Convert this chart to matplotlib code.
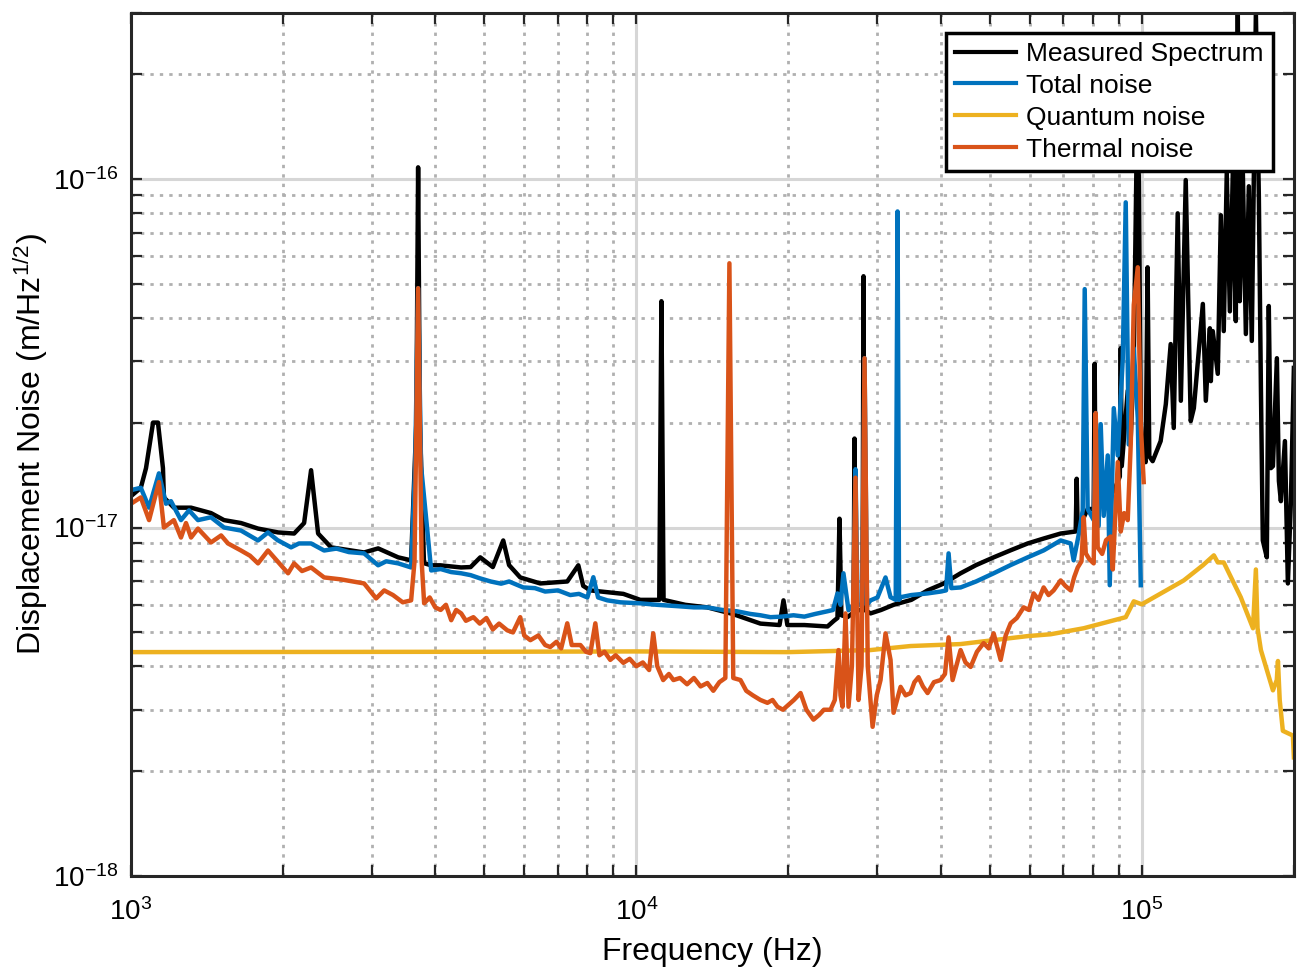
import numpy as np
import matplotlib
matplotlib.use('Agg')
import matplotlib.pyplot as plt
from matplotlib.ticker import FixedLocator, NullFormatter

plt.rcParams['font.family'] = ['Liberation Sans', 'DejaVu Sans']
plt.rcParams['mathtext.default'] = 'regular'
plt.rcParams['axes.unicode_minus'] = False

# frequencies in kHz, amplitudes in units of 1e-17 m/Hz^(1/2)
meas_f = [1.000, 1.046, 1.071, 1.106, 1.131, 1.157, 1.162, 1.216, 1.315, 1.440,
          1.528, 1.651, 1.784, 1.955, 2.103, 2.201, 2.272, 2.346, 2.489, 2.893,
          3.084, 3.379, 3.584, 3.67, 3.70, 3.73, 3.80, 3.927, 4.092, 4.50,
          4.70, 4.911, 5.20, 5.453, 5.60, 5.892, 6.454, 7.30, 7.677, 7.85,
          8.109, 9.425, 10.18, 11.10, 11.21, 11.32, 12.5, 13.82, 15.5, 17.60,
          19.20, 19.55, 19.90, 21.5, 23.89, 24.6, 25.00, 25.23, 25.45, 26.16,
          26.90, 27.02, 27.15, 27.78, 28.02, 28.15, 28.30, 29.07, 30.5, 32.28,
          35.0, 37.69, 40.5, 43.81, 47.0, 50.93, 55.0, 59.47, 64.0, 69.11,
          74.01, 74.35, 74.70, 78.16, 80.34, 80.70, 81.07, 84.10, 88.04, 90.50,
          90.88, 91.30, 93.82, 95.11, 96.43, 97.76, 98.66, 99.55, 100.5, 101.8,
          102.7, 103.5, 105.1, 109.0, 111.6, 114.1, 115.7, 117.8, 119.5, 122.2,
          125.0, 126.8, 132.1, 133.9, 136.4, 137.0, 138.2, 141.4, 143.4, 145.3,
          147.3, 149.4, 151.4, 153.5, 154.9, 156.3, 158.5, 160.7, 162.9, 165.1,
          168.2, 170.5, 172.1, 173.6, 176.8, 178.4, 180.1, 181.8, 185.1, 186.8,
          188.5, 192.0, 194.6, 197.3, 200.0]
meas_v = [1.23, 1.30, 1.48, 2.00, 2.00, 1.48, 1.22, 1.14, 1.14, 1.10,
          1.05, 1.03, 0.993, 0.968, 0.961, 1.03, 1.46, 0.961, 0.877, 0.848,
          0.871, 0.821, 0.805, 2.0, 10.8, 2.0, 0.79, 0.779, 0.779, 0.768,
          0.77, 0.821, 0.77, 0.918, 0.78, 0.719, 0.691, 0.70, 0.779, 0.68,
          0.66, 0.645, 0.62, 0.62, 4.46, 0.62, 0.60, 0.59, 0.565, 0.53,
          0.525, 0.618, 0.525, 0.525, 0.52, 0.54, 0.55, 1.06, 0.56, 0.553,
          0.57, 1.80, 0.58, 0.579, 0.58, 5.26, 0.58, 0.567, 0.58, 0.600,
          0.62, 0.660, 0.69, 0.739, 0.78, 0.821, 0.86, 0.900, 0.93, 0.961,
          0.974, 1.38, 0.98, 1.13, 1.13, 2.95, 1.10, 1.21, 1.27, 1.40,
          3.27, 1.50, 2.47, 1.80, 3.00, 12.8, 10.23, 2.00, 1.60, 1.54,
          5.58, 1.60, 1.55, 1.77, 2.26, 3.36, 1.93, 7.97, 2.31, 9.93,
          2.02, 2.20, 4.38, 2.31, 3.73, 2.63, 3.66, 2.76, 7.87, 3.66,
          10.4, 4.17, 10.4, 3.91, 30.0, 4.46, 10.5, 3.59, 9.53, 3.43,
          30.0, 8.90, 2.52, 0.918, 0.821, 4.32, 1.48, 1.50, 3.06, 1.36,
          1.19, 1.77, 0.691, 1.19, 2.87]

total_f = [1.000, 1.046, 1.086, 1.136, 1.173, 1.200, 1.256, 1.303, 1.357, 1.440,
           1.528, 1.651, 1.784, 1.867, 1.95, 2.074, 2.15, 2.272, 2.411, 2.55,
           2.70, 2.893, 3.084, 3.20, 3.379, 3.584, 3.65, 3.70, 3.75, 3.927,
           4.10, 4.30, 4.502, 4.70, 4.90, 5.15, 5.40, 5.60, 5.973, 6.30,
           6.60, 7.00, 7.40, 7.70, 8.00, 8.221, 8.40, 8.762, 9.30, 10.18,
           11.00, 12.00, 13.00, 13.82, 14.80, 15.80, 16.80, 17.60, 18.42, 19.40,
           20.46, 21.50, 22.60, 23.89, 24.50, 25.00, 25.35, 25.69, 26.29, 26.90,
           27.14, 27.40, 28.00, 28.28, 28.60, 29.07, 30.00, 31.12, 31.84, 32.60,
           32.87, 33.10, 33.33, 35.00, 37.69, 40.00, 41.00, 41.48, 42.00, 43.81,
           47.00, 50.93, 55.00, 59.47, 64.00, 69.11, 72.34, 73.33, 75.00, 76.42,
           77.12, 78.16, 80.34, 81.07, 82.18, 82.95, 84.10, 85.65, 86.44, 88.04,
           89.66, 91.71, 92.97, 94.25, 96.43, 98.21, 99.55]
total_v = [1.28, 1.30, 1.14, 1.43, 1.17, 1.19, 1.05, 1.12, 1.05, 1.07,
           1.00, 0.980, 0.918, 0.968, 0.92, 0.877, 0.90, 0.900, 0.859, 0.87,
           0.85, 0.843, 0.779, 0.80, 0.789, 0.768, 1.5, 4.86, 1.5, 0.753,
           0.76, 0.745, 0.739, 0.73, 0.715, 0.70, 0.69, 0.70, 0.673, 0.67,
           0.655, 0.66, 0.64, 0.645, 0.63, 0.72, 0.63, 0.618, 0.61, 0.606,
           0.60, 0.595, 0.59, 0.590, 0.58, 0.575, 0.565, 0.56, 0.553, 0.555,
           0.56, 0.555, 0.565, 0.575, 0.58, 0.647, 0.60, 0.739, 0.579, 0.60,
           1.47, 0.60, 0.60, 3.06, 0.60, 0.618, 0.63, 0.719, 0.631, 0.62,
           8.07, 0.62, 0.631, 0.64, 0.647, 0.655, 0.66, 0.843, 0.67, 0.673,
           0.70, 0.739, 0.78, 0.821, 0.86, 0.918, 0.90, 0.805, 0.95, 1.12,
           4.83, 1.13, 1.05, 2.13, 1.01, 1.98, 1.08, 1.61, 0.683, 2.20,
           1.61, 3.04, 8.57, 1.73, 3.27, 2.06, 0.683]

quant_f = [1.0, 5.0, 10.0, 20.0, 29.07, 34.88, 43.81, 59.47, 66.03, 76.77,
           92.97, 96.43, 100.0, 121.1, 132.1, 138.9, 141.4, 145.3, 157.0, 166.0,
           168.2, 169.5, 172.1, 181.8, 185.0, 186.0, 187.5, 190.2, 199.1, 200.0]
quant_v = [0.439, 0.440, 0.441, 0.439, 0.445, 0.457, 0.463, 0.488, 0.494, 0.514,
           0.553, 0.614, 0.602, 0.705, 0.779, 0.832, 0.794, 0.794, 0.631, 0.514,
           0.758, 0.514, 0.445, 0.341, 0.365, 0.414, 0.320, 0.261, 0.253, 0.219]

therm_f = [1.000, 1.046, 1.086, 1.136, 1.162, 1.216, 1.256, 1.285, 1.315, 1.357,
           1.440, 1.508, 1.556, 1.651, 1.72, 1.784, 1.867, 1.95, 2.046, 2.103,
           2.18, 2.272, 2.411, 2.60, 2.75, 2.893, 3.056, 3.170, 3.30, 3.45,
           3.584, 3.64, 3.70, 3.76, 3.803, 3.90, 4.00, 4.10, 4.20, 4.302,
           4.40, 4.502, 4.60, 4.76, 4.90, 5.05, 5.20, 5.35, 5.554, 5.70,
           5.892, 6.00, 6.17, 6.40, 6.60, 6.755, 6.95, 7.10, 7.300, 7.45,
           7.75, 7.95, 8.109, 8.296, 8.45, 8.65, 8.88, 9.10, 9.425, 9.70,
           10.00, 10.30, 10.60, 10.80, 11.00, 11.30, 11.60, 11.84, 12.20, 12.60,
           13.00, 13.40, 13.82, 14.20, 14.60, 15.00, 15.28, 15.55, 16.07, 16.50,
           17.00, 17.60, 18.17, 18.60, 19.02, 19.50, 20.00, 20.50, 21.13, 21.70,
           22.41, 23.00, 23.50, 24.22, 24.70, 25.12, 25.35, 25.58, 25.93, 26.29,
           26.70, 27.14, 27.52, 27.90, 28.28, 28.70, 29.34, 29.90, 30.42, 31.12,
           31.84, 32.28, 33.33, 34.10, 34.88, 35.50, 36.17, 36.90, 37.69, 38.80,
           39.99, 40.80, 41.48, 42.24, 43.81, 44.80, 45.86, 47.20, 48.66, 49.80,
           50.93, 52.58, 53.80, 55.03, 56.60, 58.39, 59.80, 61.11, 62.50, 63.96,
           65.40, 66.94, 69.11, 70.60, 72.34, 73.50, 74.70, 76.00, 76.77, 77.50,
           78.80, 80.34, 81.07, 81.81, 83.50, 85.00, 86.84, 87.64, 89.66, 90.88,
           92.30, 93.82, 95.11, 96.43, 98.21, 99.55, 100.9]
therm_v = [1.17, 1.22, 1.05, 1.35, 1.00, 1.05, 0.936, 1.03, 0.936, 0.993,
           0.906, 0.949, 0.900, 0.859, 0.83, 0.789, 0.859, 0.80, 0.739, 0.789,
           0.75, 0.768, 0.719, 0.71, 0.70, 0.691, 0.626, 0.660, 0.64, 0.61,
           0.618, 0.80, 4.86, 0.80, 0.606, 0.63, 0.59, 0.58, 0.60, 0.542,
           0.58, 0.567, 0.54, 0.553, 0.53, 0.55, 0.51, 0.53, 0.507, 0.50,
           0.553, 0.49, 0.475, 0.49, 0.46, 0.454, 0.47, 0.45, 0.531, 0.46,
           0.460, 0.44, 0.436, 0.531, 0.43, 0.44, 0.417, 0.43, 0.409, 0.42,
           0.40, 0.41, 0.39, 0.497, 0.40, 0.365, 0.38, 0.365, 0.37, 0.355,
           0.37, 0.35, 0.358, 0.34, 0.36, 0.37, 5.73, 0.37, 0.365, 0.34,
           0.33, 0.32, 0.314, 0.32, 0.306, 0.30, 0.31, 0.32, 0.335, 0.30,
           0.281, 0.29, 0.30, 0.300, 0.32, 0.445, 0.33, 0.306, 0.567, 0.306,
           0.40, 1.39, 0.320, 0.40, 3.06, 0.40, 0.268, 0.33, 0.365, 0.497,
           0.417, 0.294, 0.349, 0.33, 0.335, 0.36, 0.372, 0.35, 0.335, 0.36,
           0.365, 0.38, 0.484, 0.365, 0.445, 0.41, 0.398, 0.44, 0.466, 0.45,
           0.497, 0.417, 0.49, 0.531, 0.55, 0.590, 0.58, 0.647, 0.62, 0.673,
           0.64, 0.660, 0.705, 0.68, 0.660, 0.72, 0.768, 0.80, 1.07, 0.843,
           0.81, 0.789, 2.13, 0.877, 0.84, 0.92, 0.942, 0.758, 1.54, 0.974,
           1.10, 1.05, 1.73, 4.35, 5.58, 1.98, 1.35]

labels = ['Measured Spectrum', 'Total noise', 'Quantum noise', 'Thermal noise']
colors = ['black', '#0072BD', '#EDB120', '#D95319']

fig = plt.figure(figsize=(13.03, 9.75), dpi=100)
ax = fig.add_axes([0.1005, 0.1015, 0.8925, 0.8855])

series = [(meas_f, meas_v), (total_f, total_v), (quant_f, quant_v), (therm_f, therm_v)]
for (f, v), lab, c in zip(series, labels, colors):
    ax.loglog(np.array(f) * 1e3, np.array(v) * 1e-17, color=c, lw=3.2, label=lab)

ax.set_xlim(1e3, 2e5)
ax.set_ylim(1e-18, 3e-16)

ax.xaxis.set_major_locator(FixedLocator([1e3, 1e4, 1e5]))
ax.yaxis.set_major_locator(FixedLocator([1e-18, 1e-17, 1e-16]))
xminor = [m * 10.0 ** e for e in (3, 4, 5) for m in range(2, 10) if m * 10.0 ** e <= 2e5]
yminor = [m * 10.0 ** e for e in (-18, -17, -16) for m in range(2, 10) if m * 10.0 ** e <= 3e-16]
ax.xaxis.set_minor_locator(FixedLocator(xminor))
ax.yaxis.set_minor_locator(FixedLocator(yminor))
ax.xaxis.set_minor_formatter(NullFormatter())
ax.yaxis.set_minor_formatter(NullFormatter())

ax.grid(True, which='major', color='#d6d6d6', lw=2.2, ls='-')
ax.grid(True, which='minor', color='#b0b0b0', lw=2.0, ls=(0, (1.2, 2.2)))
ax.set_axisbelow(True)

ax.tick_params(which='both', direction='in', top=True, right=True,
               length=8, width=1.6, color='#262626', labelsize=20)
ax.tick_params(axis='x', pad=16)
ax.tick_params(axis='y', pad=9)
for s in ax.spines.values():
    s.set_linewidth(2.2)
    s.set_color('#262626')

ax.set_xlabel('Frequency (Hz)', fontsize=23, labelpad=8)
ax.set_ylabel('Displacement Noise (m/Hz$^{1/2}$)', fontsize=23, labelpad=2)

leg = ax.legend(loc='upper right', bbox_to_anchor=(0.982, 0.977), borderaxespad=0,
                fontsize=19, fancybox=False, framealpha=1, edgecolor='black',
                handlelength=2.3, handletextpad=0.4, labelspacing=0.3,
                borderpad=0.35)
leg.get_frame().set_linewidth(2.5)
for line in leg.get_lines():
    line.set_linewidth(3)

fig.savefig('out.png', dpi=100)
